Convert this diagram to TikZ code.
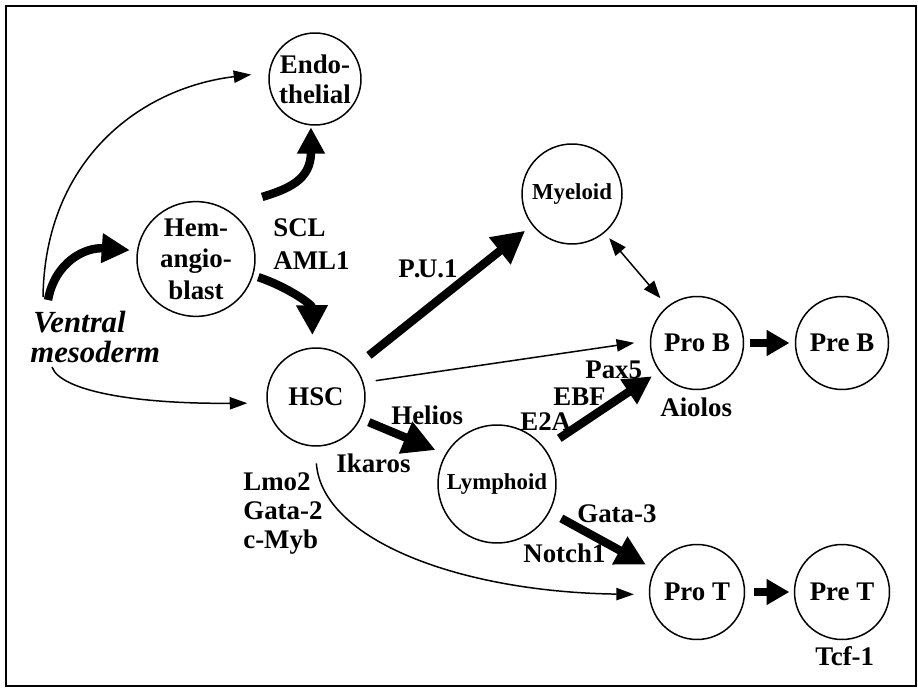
\documentclass[tikz,border=0pt]{standalone}
\usepackage{fontspec}
\setmainfont{Liberation Serif}
\usetikzlibrary{arrows.meta,shapes.geometric}
\begin{document}
\begin{tikzpicture}[x=0.02cm, y=-0.02cm,
  cell/.style={circle, draw, line width=0.85pt, inner sep=0pt, align=center,
    font=\fontsize{15.3}{17}\selectfont\bfseries},
  smallcell/.style={cell, font=\fontsize{13}{15}\selectfont\bfseries},
  tflabel/.style={anchor=base west, inner sep=0pt,
    font=\fontsize{15.3}{17}\selectfont\bfseries},
  startlabel/.style={anchor=base west, inner sep=0pt,
    font=\fontsize{17.5}{17}\selectfont\bfseries\itshape},
  thinarrow/.style={line width=0.85pt, -{Triangle[length=10pt,width=7pt]}},
  twoway/.style={line width=0.85pt,
    {Triangle[length=10pt,width=7.5pt]}-{Triangle[length=10pt,width=7.5pt]}},
  bigarrow/.style={line width=4.8pt, -{Triangle[length=#1,width=#1]}},
  bigarrow/.default=17pt,
  shortarrow/.style={line width=5pt, -{Triangle[length=13pt,width=14pt]}}
]
\useasboundingbox (0,0) rectangle (918,688);
\draw[line width=1.1pt] (6,6) rectangle (916,686);

% cell stages
\node[cell, minimum size=1.84cm] (endo) at (315,79) {Endo-\\thelial};
\node[cell, ellipse, minimum width=2.36cm, minimum height=2.04cm,
  font=\fontsize{15.3}{18}\selectfont\bfseries] (hem) at (196,259) {Hem-\\angio-\\blast};
\node[cell, minimum size=1.96cm] (hsc) at (316,397) {HSC};
\node[smallcell, minimum size=2.0cm] (myel) at (572,194) {Myeloid};
\node[smallcell, minimum size=2.36cm] (lym) at (497,484) {Lymphoid};
\node[cell, minimum size=1.86cm] (prob) at (697,343) {Pro B};
\node[cell, minimum size=1.86cm] (preb) at (842,343) {Pre B};
\node[cell, minimum size=1.9cm] (prot) at (697,592) {Pro T};
\node[cell, minimum size=1.9cm] (pret) at (842,592) {Pre T};

% origin tissue
\node[startlabel] (vtop) at (33,333) {Ventral};
\node[startlabel] (vbot) at (30,363) {mesoderm};
\coordinate (vmA) at (43,297);
\coordinate (vmB) at (48,300);
\coordinate (vmC) at (52,367);

% transcription factors
\node[tflabel] (scl) at (273,237) {SCL};
\node[tflabel] (aml) at (273,270) {AML1};
\node[tflabel] (pu) at (398,278) {P\kern-0.5pt.\kern-1.5ptU.1};
\node[tflabel] (helios) at (391,424) {Helios};
\node[tflabel] (ikaros) at (336,472) {Ikaros};
\node[tflabel] (lmo) at (243,490) {Lmo2};
\node[tflabel] (gatatwo) at (243,519) {Gata-2};
\node[tflabel] (cmyb) at (243,548) {c-Myb};
\node[tflabel] (pax) at (585,378) {Pax5};
\node[tflabel] (ebf) at (553,405) {EBF};
\node[tflabel] (etwoa) at (520,430) {E2A};
\node[tflabel] (aiolos) at (660,417) {Aiolos};
\node[tflabel] (gatathree) at (577,522) {Gata-3};
\node[tflabel] (notch) at (523,562) {Notch1};
\node[tflabel] (tcf) at (815,665) {Tcf-1};

% lineage connectors
\draw[thinarrow, shorten >=10pt] (vmA) .. controls (45,160) and (140,88) .. (endo.172);
\draw[bigarrow=16pt, shorten >=4pt] (vmB) .. controls (55,262) and (85,247) .. (hem.172);
\draw[bigarrow=15pt, shorten <=22pt, shorten >=1pt] (hem.60) .. controls (288,189) and (311,180) .. (endo.265);
\draw[bigarrow=17pt, shorten <=3pt, shorten >=7pt] (hem.-16) .. controls (290,288) and (312,305) .. (hsc.94);
\draw[thinarrow, shorten >=11pt] (vmC) .. controls (60,390) and (130,404) .. (hsc.187);
\draw[bigarrow=18.5pt, shorten <=10pt, shorten >=5pt] (hsc.38) -- (myel.218);
\draw[thinarrow, shorten <=7pt, shorten >=9pt] (hsc.17) -- (prob.177);
\draw[twoway, shorten <=4pt, shorten >=6pt] (myel.-50) -- (prob.129);
\draw[bigarrow=18.5pt, shorten <=5pt, shorten >=6pt] (hsc.-26) -- (lym.150);
\draw[thinarrow, shorten <=9.5pt, shorten >=8.5pt] (hsc.-91) .. controls (322,540) and (460,592) .. (prot.183);
\draw[bigarrow=16pt, shorten <=10pt, shorten >=5pt] (lym.37) -- (prob.217);
\draw[bigarrow=17pt, shorten <=7.5pt, shorten >=5.5pt] (lym.-28) -- (prot.152);
\draw[shortarrow, shorten <=3.5pt, shorten >=3pt] (prob) -- (preb);
\draw[shortarrow, shorten <=5pt, shorten >=2.5pt] (prot) -- (pret);
\end{tikzpicture}
\end{document}
